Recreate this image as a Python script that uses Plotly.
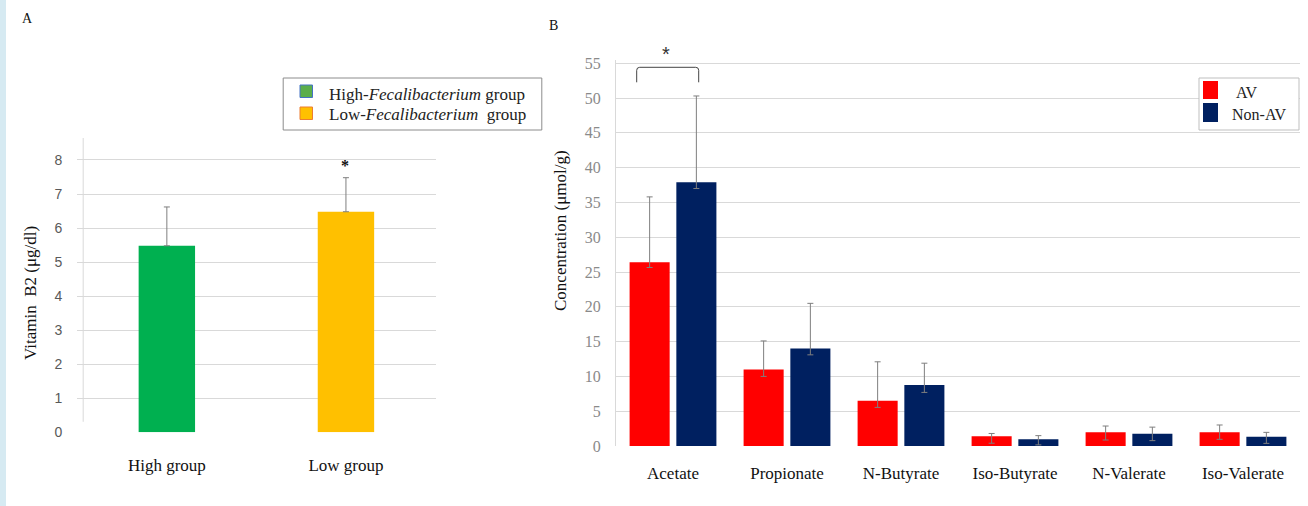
import plotly.graph_objects as go

W, H = 1308, 506

# ---------------- Data ----------------
groups_a = ["High group", "Low group"]
vitb2 = [5.48, 6.48]
vitb2_err = [1.14, 1.0]
colors_a = ["#00B050", "#FFC000"]
legend_a = ["High-<i>Fecalibacterium</i> group", "Low-<i>Fecalibacterium</i>  group"]

acids = ["Acetate", "Propionate", "N-Butyrate", "Iso-Butyrate", "N-Valerate", "Iso-Valerate"]
series_b = ["AV", "Non-AV"]
av = [26.4, 11.0, 6.5, 1.4, 1.96, 1.96]
av_plus = [9.4, 4.1, 5.6, 0.4, 0.91, 1.06]
av_minus = [0.75, 1.0, 0.95, 1.0, 1.1, 1.0]
nonav = [37.9, 14.0, 8.75, 0.96, 1.75, 1.34]
nonav_plus = [12.4, 6.5, 3.15, 0.53, 0.96, 0.62]
nonav_minus = [0.9, 0.9, 1.05, 0.8, 0.98, 0.96]
colors_b = ["#FF0000", "#002060"]

SERIF = "Liberation Serif"
SANS = "Liberation Sans"
GRID = "#d9d9d9"
ERR = "#7f7f7f"


def px(x):
    return x / W


def py(y):
    return 1 - y / H


fig = go.Figure()

# Panel A bars
fig.add_trace(go.Bar(
    x=groups_a, y=vitb2, width=0.315,
    marker=dict(color=colors_a, line=dict(width=0)),
    error_y=dict(type="data", symmetric=False, array=vitb2_err, arrayminus=[0, 0],
                 color=ERR, thickness=1, width=3),
    xaxis="x", yaxis="y", showlegend=False,
))

# Panel B bars
for name, vals, ep, em, c in zip(series_b, [av, nonav], [av_plus, nonav_plus],
                                 [av_minus, nonav_minus], colors_b):
    fig.add_trace(go.Bar(
        x=acids, y=vals, name=name, marker=dict(color=c, line=dict(width=0)),
        error_y=dict(type="data", symmetric=False, array=ep, arrayminus=em,
                     color=ERR, thickness=1, width=3),
        xaxis="x2", yaxis="y2", showlegend=False,
    ))

fig.update_layout(
    width=W, height=H,
    margin=dict(l=0, r=0, t=0, b=0, autoexpand=False),
    paper_bgcolor="white", plot_bgcolor="white",
    showlegend=False,
    barmode="group", bargap=0.18, bargroupgap=0.143,
    xaxis=dict(domain=[px(77.3), px(435.5)], range=[-0.5, 1.5], anchor="y",
               showgrid=False, showline=False, zeroline=False, ticks="",
               tickfont=dict(family=SERIF, size=17, color="#111"),
               ticklabelstandoff=21),
    yaxis=dict(domain=[py(432.3), py(138)], range=[0, 8.646], dtick=1, anchor="x",
               showgrid=True, gridcolor=GRID, gridwidth=1, zeroline=False,
               showline=False, ticks="",
               tickfont=dict(family=SANS, size=14, color="#595959"),
               ticklabelstandoff=14),
    xaxis2=dict(domain=[px(616), px(1300)], range=[-0.5, 5.5], anchor="y2",
                showgrid=False, showline=False, zeroline=False, ticks="",
                tickfont=dict(family=SERIF, size=17, color="#111"),
                ticklabelstandoff=15),
    yaxis2=dict(domain=[py(446), py(59.8)], range=[0, 55.5], dtick=5, anchor="x2",
                showgrid=True, gridcolor=GRID, gridwidth=1, zeroline=False,
                showline=True, linecolor=GRID, linewidth=1, ticks="",
                tickfont=dict(family=SERIF, size=16, color="#8a8a8a"),
                ticklabelstandoff=11),
    font=dict(family=SERIF),
)

shapes = []
# left decorative strip
shapes.append(dict(type="rect", xref="paper", yref="paper", x0=0, x1=px(6), y0=0, y1=1,
                   fillcolor="#d6eaf2", line=dict(width=0), layer="below"))
# panel A vertical axis line
shapes.append(dict(type="line", xref="paper", yref="y", x0=px(83.2), x1=px(83.2),
                   y0=0.31, y1=8.646, line=dict(color=GRID, width=1)))

# significance bracket in B
x0, x1, yt, yb, r = 636.7, 698.7, 67.3, 82.3, 3
path = (f"M {px(x0)},{py(yb)} L {px(x0)},{py(yt + r)} Q {px(x0)},{py(yt)} {px(x0 + r)},{py(yt)} "
        f"L {px(x1 - r)},{py(yt)} Q {px(x1)},{py(yt)} {px(x1)},{py(yt + r)} L {px(x1)},{py(yb)}")
shapes.append(dict(type="path", xref="paper", yref="paper", path=path,
                   line=dict(color="#444", width=1)))


def rect(xa, xb, ya, yb_, fill, line_color=None, lw=0):
    return dict(type="rect", xref="paper", yref="paper", x0=px(xa), x1=px(xb),
                y0=py(yb_), y1=py(ya), fillcolor=fill,
                line=dict(color=line_color or fill, width=lw))


# legend A (box + keys)
shapes.append(rect(283.2, 541.8, 78, 130, "white", "#8c8c8c", 1))
shapes.append(rect(300, 312.5, 85, 97.5, "#5BAE4A", "#4472C4", 1))
shapes.append(rect(300, 312.5, 107, 119.5, "#FFC000", "#ED7D31", 1))
# legend B (box + keys)
shapes.append(rect(1199, 1299, 78, 130, "white", "#bfbfbf", 1))
shapes.append(rect(1203, 1218, 81, 99, colors_b[0]))
shapes.append(rect(1203, 1218, 103, 122, colors_b[1]))

fig.update_layout(shapes=shapes)

ann = [
    dict(text="A", x=px(27), y=py(18), font=dict(family=SERIF, size=14, color="#111")),
    dict(text="B", x=px(553), y=py(25), font=dict(family=SERIF, size=14, color="#111")),
    dict(text="Vitamin  B2 (μg/dl)", x=px(30), y=py(293), textangle=-90,
         font=dict(family=SERIF, size=17, color="#111")),
    dict(text="Concentration (μmol/g)", x=px(560), y=py(231), textangle=-90,
         font=dict(family=SERIF, size=17, color="#111")),
    dict(text="<b>*</b>", x=px(344.6), y=py(165), font=dict(family=SERIF, size=16, color="#111")),
    dict(text="*", x=px(666), y=py(54), font=dict(family=SANS, size=20, color="#333")),
]
for a in ann:
    fig.add_annotation(xref="paper", yref="paper", showarrow=False,
                       xanchor="center", yanchor="middle", **a)

# legend texts
for t, yc in zip(legend_a, [94, 114]):
    fig.add_annotation(xref="paper", yref="paper", showarrow=False, xanchor="left",
                       yanchor="middle", x=px(327), y=py(yc), text=t,
                       font=dict(family=SERIF, size=17, color="#222"))
for t, xl, yc in zip(series_b, [1234, 1230], [92, 114]):
    fig.add_annotation(xref="paper", yref="paper", showarrow=False, xanchor="left",
                       yanchor="middle", x=px(xl), y=py(yc), text=t,
                       font=dict(family=SERIF, size=16, color="#222"))

fig.write_html("out.html", config={"displayModeBar": False},
               post_script="document.body.style.margin='0px';")
